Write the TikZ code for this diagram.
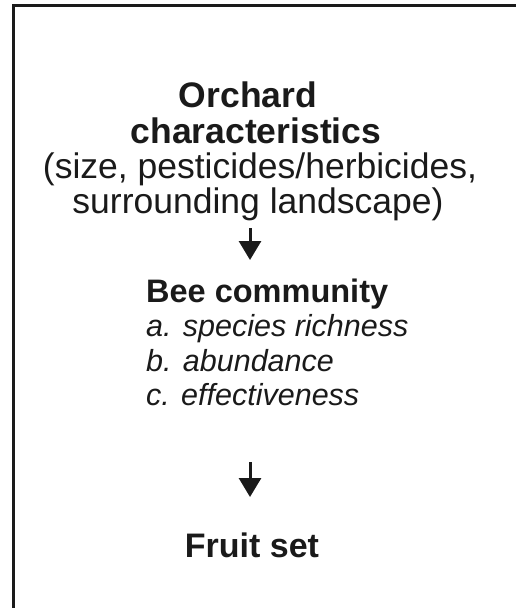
\documentclass[tikz,border=0pt]{standalone}
\usepackage{fontspec}
\setmainfont{Liberation Sans}
\usetikzlibrary{arrows.meta}
\definecolor{ink}{HTML}{1A1A1A}
\tikzset{
  txt/.style={anchor=base, inner sep=0pt, text=ink, font=\fontsize{35.5}{35.5}\selectfont},
  btxt/.style={txt, font=\fontsize{35.5}{35.5}\selectfont\bfseries},
  beetxt/.style={txt, anchor=base west, font=\fontsize{32.5}{32.5}\selectfont\bfseries},
  itxt/.style={txt, anchor=base west, font=\fontsize{30.5}{30.5}\selectfont\itshape},
  fruittxt/.style={txt, font=\fontsize{34}{34}\selectfont\bfseries},
  flow/.style={draw=ink, line width=3pt, -{Triangle[width=22pt,length=19pt]}},
  frame/.style={draw=ink, line width=3pt}
}
\begin{document}
\begin{tikzpicture}[x=1pt,y=-1pt]
\useasboundingbox (0,0) rectangle (521,608);
\draw[frame] (13,608) -- (13,5) -- (516,5);
\node[btxt] (orch) at (248,107) {Orchard};
\node[btxt] (char) at (256,143) {characteristics};
\node[txt] (size) at (260,178) {(size, pesticides/herbicides,};
\node[txt] (surr) at (258,213) {surrounding landscape)};
\node[beetxt] (bee) at (146,302) {Bee community};
\node[itxt] (ra) at (146,336) {a. species richness};
\node[itxt] (rb) at (146,371) {b. abundance};
\node[itxt] (rc) at (146,405) {c. effectiveness};
\node[fruittxt] (fruit) at (252,557) {Fruit set};
\coordinate (a1s) at (250,228);
\coordinate (a1e) at (250,260);
\coordinate (a2s) at (250,462);
\coordinate (a2e) at (250,497);
\draw[flow] (a1s) -- (a1e);
\draw[flow] (a2s) -- (a2e);
\end{tikzpicture}
\end{document}
